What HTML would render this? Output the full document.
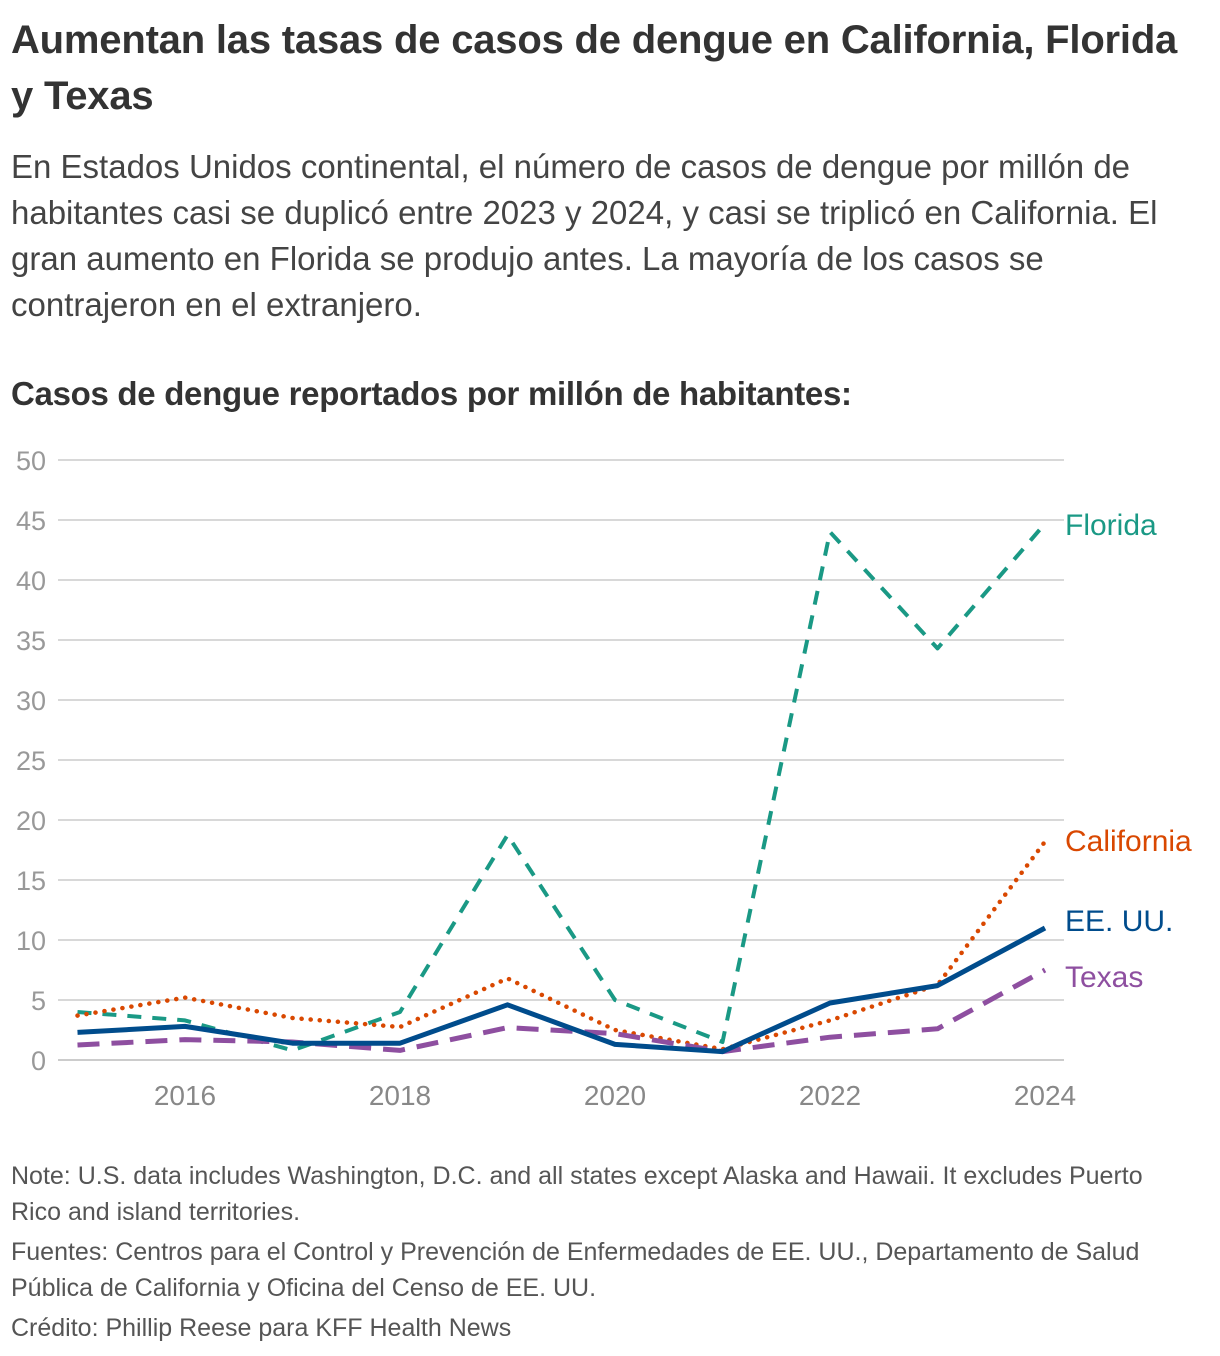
<!DOCTYPE html>
<html><head><meta charset="utf-8"><style>
body{margin:0;width:1220px;height:1356px;background:#fff;font-family:"Liberation Sans",sans-serif;color:#333;position:relative;overflow:hidden}
.t{position:absolute;left:11px;margin:0;white-space:nowrap}
h1{font-size:40px;font-weight:bold;line-height:56px;top:12px;letter-spacing:-0.2px}
.sub{top:144px;font-size:33px;line-height:46px;color:#444;letter-spacing:0}
.ct{top:375px;font-size:33px;font-weight:bold;letter-spacing:-0.3px}
.note{font-size:25px;line-height:36px;color:#555;letter-spacing:0}
</style></head><body>
<h1 class="t">Aumentan las tasas de casos de dengue en California, Florida<br>y Texas</h1>
<p class="t sub">En Estados Unidos continental, el número de casos de dengue por millón de<br>habitantes casi se duplicó entre 2023 y 2024, y casi se triplicó en California. El<br>gran aumento en Florida se produjo antes. La mayoría de los casos se<br>contrajeron en el extranjero.</p>
<p class="t ct">Casos de dengue reportados por millón de habitantes:</p>
<svg id="chart" width="1220" height="1120" style="position:absolute;left:0;top:0"></svg>
<div class="t note" style="top:1158px">Note: U.S. data includes Washington, D.C. and all states except Alaska and Hawaii. It excludes Puerto<br>Rico and island territories.</div>
<div class="t note" style="top:1234px">Fuentes: Centros para el Control y Prevención de Enfermedades de EE. UU., Departamento de Salud<br>Pública de California y Oficina del Censo de EE. UU.</div>
<div class="t note" style="top:1310px">Crédito: Phillip Reese para KFF Health News</div>
<script>
const years=[2015,2016,2017,2018,2019,2020,2021,2022,2023,2024];
const yTicks=[0,5,10,15,20,25,30,35,40,45,50];
const xTicks=[2016,2018,2020,2022,2024];
const florida=[4,3.3,0.8,4,18.75,5,1.5,44,34.3,44.7];
const california=[3.7,5.2,3.5,2.75,6.8,2.5,0.9,3.3,6.25,18.2];
const us=[2.3,2.8,1.4,1.4,4.6,1.3,0.7,4.75,6.2,11];
const texas=[1.25,1.7,1.5,0.8,2.7,2.2,0.7,1.9,2.6,7.5];
const svg=document.getElementById('chart');const NS='http://www.w3.org/2000/svg';
const x=y=>77.5+(y-2015)*107.5; const yy=v=>1060-v*12;
function mk(t,a){const e=document.createElementNS(NS,t);for(const k in a)e.setAttribute(k,a[k]);svg.appendChild(e);return e;}
yTicks.forEach(v=>{
 const l=mk('line',{x1:58,x2:1064,y1:yy(v),y2:yy(v),stroke:'#ccc','stroke-width':v===0?2:1.5});
 
 
 const t=mk('text',{x:46,y:yy(v)+10,'text-anchor':'end','font-size':27,fill:'#999','font-family':'Liberation Sans'});t.textContent=v;
 
 
});
xTicks.forEach(v=>{
 const t=mk('text',{x:x(v),y:1105,'text-anchor':'middle','font-size':28,fill:'#888','font-family':'Liberation Sans'});t.textContent=v;
 
 
});
const series=[
 {n:'florida',d:florida,c:'#1a9985',w:4,da:'14 11',lab:'Florida'},
 {n:'california',d:california,c:'#d94801',w:4.5,da:'0.1 9',cap:'round',lab:'California'},
 {n:'texas',d:texas,c:'#8e4fa0',w:5,da:'22 12',lab:'Texas'},
 {n:'us',d:us,c:'#004c8c',w:5,da:'',lab:'EE. UU.'}];
const labY={florida:535,california:851,us:931,texas:987};
series.forEach(s=>{
 const p=mk('polyline',{points:s.d.map((v,i)=>x(years[i])+','+yy(v)).join(' '),fill:'none',stroke:s.c,'stroke-width':s.w,'stroke-dasharray':s.da,'stroke-linecap':s.cap||'butt','stroke-linejoin':'round'});
 
 
 const t=mk('text',{x:1065,y:labY[s.n],'font-size':30,fill:s.c,'font-family':'Liberation Sans'});t.textContent=s.lab;
 
 
});
</script>
</body></html>
